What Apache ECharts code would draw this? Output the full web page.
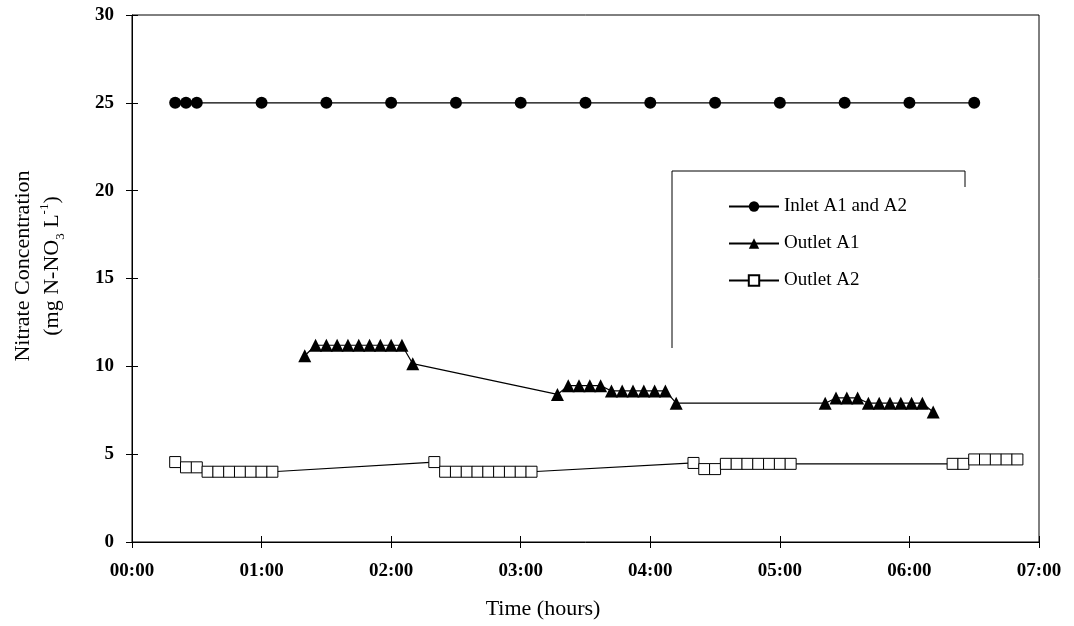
<!DOCTYPE html>
<html lang="en">
<head>
    <meta charset="UTF-8">
    <script src="https://cdn.jsdelivr.net/npm/echarts@6/dist/echarts.min.js"></script>
    <style>
        *{
            margin: 0;
            padding: 0;
        }
        #chart {
            width: 1074px;
            height: 626px;
            background: #fff;
        }
    </style>
</head>
<body>
<div id="chart"></div>
<script>
    // x values are minutes since 00:00
    var xTickLabels = ['00:00','01:00','02:00','03:00','04:00','05:00','06:00','07:00'];
    var yTicks = [0, 5, 10, 15, 20, 25, 30];

    var inletTime = [20,25,30,60,90,120,150,180,210,240,270,300,330,360,390];
    var inletConc = [25,25,25,25,25,25,25,25,25,25,25,25,25,25,25];

    var a1Time = [80,85,90,95,100,105,110,115,120,125,130,
                  197,202,207,212,217,222,227,232,237,242,247,252,
                  321,326,331,336,341,346,351,356,361,366,371];
    var a1Conc = [10.6,11.2,11.2,11.2,11.2,11.2,11.2,11.2,11.2,11.2,10.15,
                  8.4,8.9,8.9,8.9,8.9,8.6,8.6,8.6,8.6,8.6,8.6,7.9,
                  7.9,8.2,8.2,8.2,7.9,7.9,7.9,7.9,7.9,7.9,7.4];

    var a2Time = [20,25,30,35,40,45,50,55,60,65,
                  140,145,150,155,160,165,170,175,180,185,
                  260,265,270,275,280,285,290,295,300,305,
                  380,385,390,395,400,405,410];
    var a2Conc = [4.55,4.25,4.25,4.0,4.0,4.0,4.0,4.0,4.0,4.0,
                  4.55,4.0,4.0,4.0,4.0,4.0,4.0,4.0,4.0,4.0,
                  4.5,4.15,4.15,4.45,4.45,4.45,4.45,4.45,4.45,4.45,
                  4.45,4.45,4.7,4.7,4.7,4.7,4.7];

    function pairs(t, v) {
        var out = [];
        for (var i = 0; i < t.length; i++) {
            out.push([t[i], v[i]]);
        }
        return out;
    }

    var serif = 'Liberation Serif';
    var myChart = echarts.init(document.getElementById('chart'));

    var option = {
        animation: false,
        backgroundColor: '#fff',
        grid: {
            left: 132,
            right: 35,
            top: 15,
            bottom: 84,
            show: true,
            borderColor: '#000',
            borderWidth: 1
        },
        legend: {
            orient: 'vertical',
            left: 728,
            top: 197,
            padding: 0,
            itemWidth: 50,
            itemHeight: 13,
            itemGap: 18,
            textStyle: { fontFamily: serif, fontSize: 19, color: '#000' },
            data: ['Inlet A1 and A2', 'Outlet A1', 'Outlet A2']
        },
        xAxis: [{
            type: 'value',
            min: 0,
            max: 420,
            interval: 60,
            axisLine: { lineStyle: { color: '#000', width: 1 } },
            axisTick: { show: true, length: 6, lineStyle: { color: '#000' } },
            axisLabel: {
                margin: 20,
                fontFamily: serif,
                fontSize: 19,
                fontWeight: 'bold',
                color: '#000',
                formatter: function (v) { return xTickLabels[v / 60]; }
            },
            splitLine: { show: false }
        }, {
            type: 'value',
            position: 'bottom',
            min: 0,
            max: 420,
            interval: 60,
            axisLine: { show: false },
            axisTick: { show: true, inside: true, length: 6, lineStyle: { color: '#000' } },
            axisLabel: { show: false },
            splitLine: { show: false }
        }],
        yAxis: [{
            type: 'value',
            min: yTicks[0],
            max: yTicks[yTicks.length - 1],
            interval: 5,
            axisLine: { show: true, lineStyle: { color: '#000', width: 1 } },
            axisTick: { show: true, length: 6, lineStyle: { color: '#000' } },
            axisLabel: {
                margin: 18,
                fontFamily: serif,
                fontSize: 19,
                fontWeight: 'bold',
                color: '#000'
            },
            splitLine: { show: false }
        }, {
            type: 'value',
            position: 'left',
            min: yTicks[0],
            max: yTicks[yTicks.length - 1],
            interval: 5,
            axisLine: { show: false },
            axisTick: { show: true, inside: true, length: 6, lineStyle: { color: '#000' } },
            axisLabel: { show: false },
            splitLine: { show: false }
        }],
        graphic: [
            {
                type: 'polyline',
                shape: { points: [[672, 348], [672, 171], [965, 171], [965, 187]] },
                style: { stroke: '#000', lineWidth: 1, fill: null }
            },
            {
                type: 'text',
                x: 543,
                y: 609,
                style: {
                    text: 'Time (hours)',
                    fontFamily: serif,
                    fontSize: 22,
                    fill: '#000',
                    align: 'center',
                    verticalAlign: 'middle'
                }
            },
            {
                type: 'text',
                x: 38,
                y: 266,
                rotation: Math.PI / 2,
                style: {
                    text: '{a|Nitrate Concentration}\n{a|(mg N-NO}{b|3}{a| L}{c|-1}{a|)}',
                    fontFamily: serif,
                    fill: '#000',
                    align: 'center',
                    verticalAlign: 'middle',
                    rich: {
                        a: { fontFamily: serif, fontSize: 22, lineHeight: 29, fill: '#000' },
                        b: { fontFamily: serif, fontSize: 13, lineHeight: 29, verticalAlign: 'bottom', fill: '#000' },
                        c: { fontFamily: serif, fontSize: 13, lineHeight: 29, verticalAlign: 'top', fill: '#000' }
                    }
                }
            }
        ],
        series: [
            {
                name: 'Inlet A1 and A2',
                type: 'line',
                data: pairs(inletTime, inletConc),
                symbol: 'circle',
                symbolSize: 12,
                itemStyle: { color: '#000' },
                lineStyle: { color: '#000', width: 1.2 }
            },
            {
                name: 'Outlet A1',
                type: 'line',
                data: pairs(a1Time, a1Conc),
                symbol: 'triangle',
                symbolSize: 13,
                itemStyle: { color: '#000' },
                lineStyle: { color: '#000', width: 1.2 }
            },
            {
                name: 'Outlet A2',
                type: 'line',
                data: pairs(a2Time, a2Conc),
                symbol: 'rect',
                symbolSize: 11,
                itemStyle: { color: '#fff', borderColor: '#000', borderWidth: 1 },
                lineStyle: { color: '#000', width: 1.2 }
            }
        ]
    };

    myChart.setOption(option);
</script>
</body>
</html>
